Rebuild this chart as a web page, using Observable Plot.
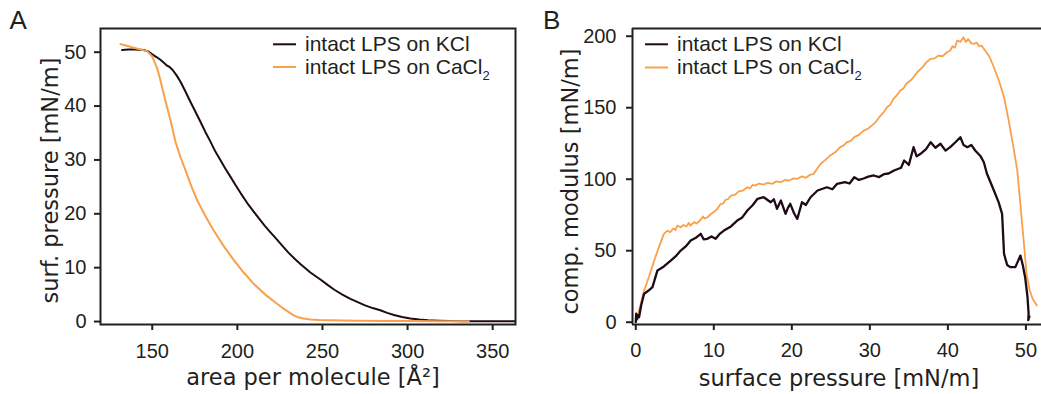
<!DOCTYPE html>
<html><head><meta charset="utf-8">
<script src="https://cdn.jsdelivr.net/npm/d3@7"></script>
<script src="https://cdn.jsdelivr.net/npm/@observablehq/plot@0.6"></script>
<style>
body{margin:0;background:#fff;}
#wrap{position:relative;width:1041px;height:394px;display:flex;}
svg{display:block;}
</style></head><body><div id="wrap"></div>
<script>
// ---------- Panel A: isotherms ----------
const seriesNames = ["intact LPS on KCl", "intact LPS on CaCl"];
const areaKCl = [132.3,136,140,145,148,150,152.5,154.8,157,158.7,160,162,164.3,166.6,169.5,172.4,175.3,178.3,181.2,184.2,187,190,192.9,195.9,199,202,205.8,209.6,212.8,216,219.6,223.3,226.6,230,233.5,237,242.9,248.8,253,257,261.7,266.4,270.7,275,279.5,284,288,292,296.8,301.6,306.8,312,318.5,325,332,340,350,363];
const piKCl   = [50.4,50.5,50.5,50.4,50.1,49.6,49.1,48.6,48.0,47.5,47.3,46.7,45.7,44.5,42.7,40.8,39.0,37.1,35.2,33.4,31.6,30.0,28.4,26.9,25.3,23.8,22.0,20.4,19.1,17.8,16.5,15.2,14.0,12.8,11.7,10.7,9.1,7.8,6.8,5.9,5.0,4.2,3.6,3.0,2.5,2.1,1.6,1.2,0.85,0.55,0.38,0.25,0.16,0.1,0.07,0.05,0.05,0.05];
const areaCa  = [131.3,134,137,142,147,150,152.9,154.8,156.8,158.7,160.7,163.6,166.6,169.5,172.9,176.4,181.2,186.1,192,197.9,203.7,209.6,216.4,223.3,226.6,230,232.5,235.1,238.8,242.9,248,255,262,270,285,300,318,336];
const piCa    = [51.5,51.3,51.0,50.6,50.2,49.2,47.0,44.8,42.2,39.8,37.4,33.4,30.5,28.1,25.2,22.5,19.6,16.9,14.0,11.4,9.1,7.0,5.0,3.3,2.5,1.8,1.25,0.85,0.55,0.4,0.3,0.25,0.2,0.15,0.12,0.1,0.07,0.05];

// ---------- Panel B: compression modulus ----------
const surfKCl = [0,0.05,0.15,0.3,0.42,0.7,1.06,1.6,2.14,2.78,3.6,4.48,5.1,5.76,6.4,7.04,7.7,8.32,8.7,9.18,9.7,10.24,10.8,11.3,12.2,13.0,13.6,14.3,15.0,15.6,16.4,17.3,17.7,18.1,18.6,19.2,19.5,19.8,20.3,20.7,21.3,21.8,22.4,23.3,24.5,25.2,25.8,26.8,27.4,28.0,28.6,29.2,29.8,30.5,31.2,31.8,32.4,33.1,34.0,34.4,35.0,35.6,36.0,36.5,37.2,37.8,38.4,39.05,39.7,40.3,41.0,41.6,42.0,42.5,43.0,43.5,44.2,44.6,45.0,45.9,46.5,46.95,47.2,47.6,48.0,48.65,49.3,49.6,49.9,50.2,50.35,50.3,50.45];
const modKCl  = [0,6,2,5,3.5,12,19.8,22,24.5,36.2,39,43.1,46,50.1,53,57.1,59,61.8,58,58.3,60,58.3,62,64.1,67,71.1,73,78.1,82,86.3,87.4,83.9,86,79.3,85.1,75.8,80,82.8,76,72.3,83.9,82,87.4,92.1,94.4,93,96.8,98,97,101.4,99.5,100.5,101.8,102.6,101.5,103.5,104,106.1,108,113.1,110,122.4,116,117.8,121,125.9,122,124.8,120,122.4,126,129.4,124,122.4,124,120.1,116,112,104,92.1,84,75.8,47.8,40,38.5,38.5,46.6,40,31.5,18,6,1.5,4];
const surfCa  = [0.2,0.6,1.06,1.7,2.35,3.0,3.6,4.06,4.4,4.8,5.1,5.3,5.76,6.1,6.5,6.8,7.0,7.46,7.8,8.3,8.6,8.8,9.2,9.6,10.0,10.4,10.9,11.2,11.5,11.8,12.2,12.7,13.2,13.7,14.3,14.6,15.0,15.3,15.8,16.4,16.9,17.5,18.0,18.6,19.1,19.6,20.2,20.7,21.3,21.8,22.3,22.8,23.2,23.7,24.3,25.0,25.6,26.2,26.6,27.1,27.6,28.0,28.6,29.2,29.8,30.5,30.9,31.3,31.8,32.2,32.6,33.0,33.5,33.9,34.3,34.7,35.2,35.6,36.1,36.7,37.2,37.8,38.3,38.8,39.3,39.9,40.3,40.6,40.9,41.2,41.6,42.0,42.3,42.6,43.0,43.3,43.7,44.0,44.3,44.6,45.3,45.9,46.6,47.2,47.8,48.4,48.9,49.3,49.7,50.1,50.5,50.9,51.4];
const modCa   = [3.5,12,22,32,43,53,61.8,64,63,65.5,64.5,67.5,66.4,68,67,69.5,67.5,70,69,71.5,74,72.5,73.4,75.5,77,79,82.8,83,85.5,86,88.6,89,91.5,92,94.4,93.5,96,95.5,97,96.3,97.5,96.8,98.5,97.9,99.5,99,100.5,100.3,102,101,103,103.8,107,110.8,113.5,117,119,122.4,123.5,126,127,129.4,131,134,135.5,138.7,141,144,147,150.3,152,156,159,162,163.5,167,169,171.3,175,178,181.5,184.2,184.5,186.5,186,188.8,190,193,192,197,196,199.3,196,198,195,194.7,195.5,193,193.5,191.2,186,178.3,168,157.3,141,122.4,106,82,58,33,22,16,11.7];

const xTicksA = [150,200,250,300,350];
const yTicksA = [0,10,20,30,40,50];
const xTicksB = [0,10,20,30,40,50];
const yTicksB = [0,50,100,150,200];

const ink = "#231f20";
const colKCl = "#1f0b17";
const colCa  = "#f8a04a";
const tickFont = "Liberation Sans, Arial, sans-serif";
const labelFont = "DejaVu Sans, sans-serif";

const rows = (xs, ys) => xs.map((x, i) => ({x, y: ys[i]}));

function addLegend(svg, x0, rowsY) {
  const g = d3.select(svg).append("g")
    .attr("font-family", tickFont).attr("font-size", 21).attr("fill", ink).attr("text-anchor", "start");
  const cols = [colKCl, colCa];
  rowsY.forEach((y, i) => {
    g.append("line").attr("x1", x0).attr("x2", x0 + 23).attr("y1", y).attr("y2", y)
      .attr("stroke", cols[i]).attr("stroke-width", 2);
    const t = g.append("text").attr("x", x0 + 32).attr("y", y).attr("dy", "0.32em").attr("text-anchor", "start").text(seriesNames[i]);
    if (i === 1) t.append("tspan").attr("font-size", 13).attr("dy", 6).text("2");
  });
}

// Panel A
const plotA = Plot.plot({
  width: 520, height: 394,
  marginTop: 28, marginBottom: 70, marginLeft: 100, marginRight: 5,
  style: {fontFamily: tickFont, fontSize: "20px", color: ink, background: "#fff"},
  x: {domain: [119.6, 363.4], nice: false},
  y: {domain: [-0.55, 54.4], nice: false},
  marks: [
    Plot.axisX({ticks: xTicksA, tickSize: 6, tickPadding: 13, label: null, fontSize: 20, fontFamily: tickFont, strokeWidth: 2}),
    Plot.axisY({ticks: yTicksA, tickSize: 6, tickPadding: 8, label: null, fontSize: 20, fontFamily: tickFont, strokeWidth: 2}),
    Plot.line(rows(areaKCl, piKCl), {x: "x", y: "y", stroke: colKCl, strokeWidth: 2}),
    Plot.line(rows(areaCa, piCa), {x: "x", y: "y", stroke: colCa, strokeWidth: 2}),
    Plot.frame({stroke: ink, strokeWidth: 2}),
    Plot.text(["area per molecule [Å²]"], {frameAnchor: "bottom", dy: 60, dx: 5, lineAnchor: "bottom", fontFamily: labelFont, fontSize: 22.5, fill: ink}),
    Plot.text(["surf. pressure [mN/m]"], {frameAnchor: "left", rotate: -90, dx: -43, dy: 4, lineAnchor: "bottom", textAnchor: "middle", fontFamily: labelFont, fontSize: 22.5, fill: ink}),
    Plot.text(["A"], {frameAnchor: "top-left", dx: -91, dy: 0, lineAnchor: "bottom", textAnchor: "start", fontSize: 26, fill: ink})
  ]
});
addLegend(plotA, 273, [44.3, 67]);

// Panel B
const xDomB = [-0.42, 52], yDomB = [-1.6, 205.4];
const plotB = Plot.plot({
  width: 521, height: 394,
  marginTop: 28, marginBottom: 70, marginLeft: 112, marginRight: 0,
  style: {fontFamily: tickFont, fontSize: "20px", color: ink, background: "#fff"},
  x: {domain: xDomB, nice: false},
  y: {domain: yDomB, nice: false},
  marks: [
    Plot.axisX({ticks: xTicksB, tickSize: 6, tickPadding: 12, label: null, fontSize: 20, fontFamily: tickFont, strokeWidth: 2}),
    Plot.axisY({ticks: yTicksB, tickSize: 6, tickPadding: 10, label: null, fontSize: 20, fontFamily: tickFont, strokeWidth: 2}),
    Plot.line(rows(surfCa, modCa), {x: "x", y: "y", stroke: colCa, strokeWidth: 1.8}),
    Plot.line(rows(surfKCl, modKCl), {x: "x", y: "y", stroke: colKCl, strokeWidth: 2.3}),
    Plot.ruleY([yDomB[0], yDomB[1]], {stroke: ink, strokeWidth: 2}),
    Plot.ruleX([xDomB[0]], {stroke: ink, strokeWidth: 2}),
    Plot.text(["surface pressure [mN/m]"], {frameAnchor: "bottom", dy: 61, dx: 2, lineAnchor: "bottom", fontFamily: labelFont, fontSize: 22.5, fill: ink}),
    Plot.text(["comp. modulus [mN/m]"], {frameAnchor: "left", rotate: -90, dx: -55, dy: 5, lineAnchor: "bottom", textAnchor: "middle", fontFamily: labelFont, fontSize: 22.5, fill: ink}),
    Plot.text(["B"], {frameAnchor: "top-left", dx: -89.5, dy: 0, lineAnchor: "bottom", textAnchor: "start", fontSize: 26, fill: ink})
  ]
});
addLegend(plotB, 125, [44.3, 67.5]);

document.getElementById("wrap").append(plotA, plotB);
</script>
</body></html>
